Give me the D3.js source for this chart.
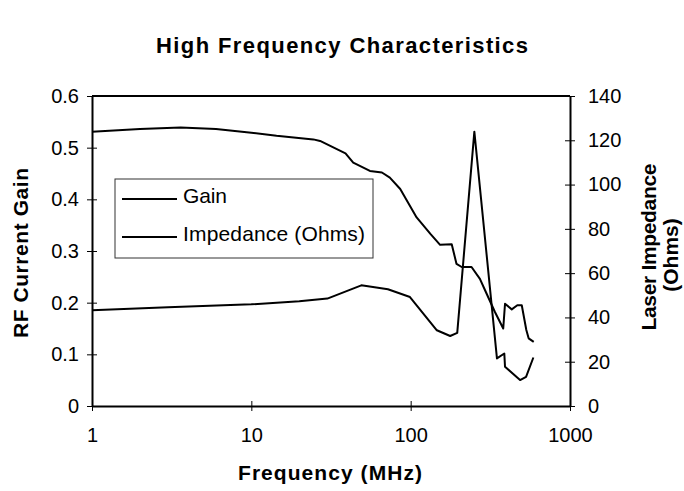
<!DOCTYPE html>
<html><head><meta charset="utf-8">
<script src="https://cdn.jsdelivr.net/npm/d3@7"></script>
<style>body{margin:0;background:#fff}svg{display:block;font-family:"Liberation Sans",Arial,sans-serif}</style>
</head><body><svg id="c" width="684" height="491"></svg>
<script>
// Gain (left axis) readings
const gainFreq   = [1, 2, 3.6, 6, 10, 14.4, 24.5, 27, 39, 43.6, 55.5, 66, 74, 86, 109, 133, 153, 181, 194, 209, 241, 272, 293, 338, 381, 391, 431, 467, 498, 532, 550, 592];
const gainValues = [0.531, 0.536, 0.539, 0.536, 0.529, 0.523, 0.516, 0.513, 0.489, 0.471, 0.455, 0.452, 0.442, 0.420, 0.365, 0.333, 0.312, 0.313, 0.275, 0.269, 0.269, 0.246, 0.224, 0.182, 0.150, 0.198, 0.187, 0.195, 0.195, 0.147, 0.131, 0.124];
// Impedance (right axis) readings
const impFreq   = [1, 3, 10, 20, 30, 49, 72, 99, 146, 177, 196, 251, 348, 387, 391, 486, 530, 589];
const impValues = [43.2, 44.6, 45.9, 47.3, 48.5, 54.5, 52.7, 49.2, 34.2, 31.6, 33.0, 123.9, 21.5, 23.7, 17.7, 11.7, 13.2, 21.9];

const xTicks = [1, 10, 100, 1000];
const leftTicks = [0, 0.1, 0.2, 0.3, 0.4, 0.5, 0.6];
const rightTicks = [0, 20, 40, 60, 80, 100, 120, 140];
const seriesNames = ["Gain", "Impedance (Ohms)"];
const titleText = "High Frequency Characteristics";
const xTitle = "Frequency (MHz)";
const yLeftTitle = "RF Current Gain";
const yRightTitle = ["Laser Impedance", "(Ohms)"];

const svg = d3.select("#c");
const L = 92, R = 570, T = 96, B = 406;
const x = d3.scaleLog().domain([1, 1000]).range([L, R]);
const yL = d3.scaleLinear().domain([0, 0.6]).range([B, T]);
const yR = d3.scaleLinear().domain([0, 140]).range([B, T]);
const FONT = '"Liberation Sans", Arial, sans-serif';

// title
svg.append("text").attr("x", 342).attr("y", 53).attr("text-anchor", "middle")
  .attr("font-size", 22).attr("font-weight", "bold").attr("textLength", 372)
  .attr("lengthAdjust", "spacing").text(titleText);

// frame top
svg.append("line").attr("x1", L).attr("x2", R).attr("y1", T).attr("y2", T)
  .attr("stroke", "#000").attr("stroke-width", 2);

function styleAxis(g) {
  g.attr("font-size", 20).attr("font-family", FONT);
  g.select(".domain").attr("stroke-width", 2).attr("stroke", "#000");
  g.selectAll(".tick line").attr("stroke", "#000").attr("stroke-width", 1);
  g.selectAll(".tick text").attr("fill", "#000");
}

const gl = svg.append("g").attr("transform", `translate(${L},0)`)
  .call(d3.axisLeft(yL).tickValues(leftTicks)
    .tickFormat(d => d === 0 ? "0" : d3.format(".1f")(d))
    .tickSize(5).tickSizeOuter(0).tickPadding(8));
gl.selectAll(".tick line").attr("x1", 5);
styleAxis(gl);

const gr = svg.append("g").attr("transform", `translate(${R},0)`)
  .call(d3.axisRight(yR).tickValues(rightTicks).tickFormat(d3.format("d"))
    .tickSize(5).tickSizeOuter(0).tickPadding(13));
gr.selectAll(".tick line").attr("x1", -5);
styleAxis(gr);

const gb = svg.append("g").attr("transform", `translate(0,${B})`)
  .call(d3.axisBottom(x).tickValues(xTicks).tickFormat(d3.format("d"))
    .tickSize(5).tickSizeOuter(0).tickPadding(17));
gb.selectAll(".tick line").attr("y1", -5);
styleAxis(gb);

// axis titles
svg.append("text").attr("transform", "translate(28,253) rotate(-90)")
  .attr("text-anchor", "middle").attr("font-size", 21).attr("font-weight", "bold")
  .attr("textLength", 170).attr("lengthAdjust", "spacing").text(yLeftTitle);
svg.append("text").attr("transform", "translate(656,247) rotate(-90)")
  .attr("text-anchor", "middle").attr("font-size", 21).attr("font-weight", "bold")
  .attr("textLength", 167).attr("lengthAdjust", "spacing").text(yRightTitle[0]);
svg.append("text").attr("transform", "translate(678,255) rotate(-90)")
  .attr("text-anchor", "middle").attr("font-size", 21).attr("font-weight", "bold")
  .text(yRightTitle[1]);
svg.append("text").attr("x", 330).attr("y", 480).attr("text-anchor", "middle")
  .attr("font-size", 21).attr("font-weight", "bold")
  .attr("textLength", 184).attr("lengthAdjust", "spacing").text(xTitle);

// series
const gainLine = d3.line().x((d, i) => x(gainFreq[i])).y(d => yL(d));
const impLine = d3.line().x((d, i) => x(impFreq[i])).y(d => yR(d));
svg.append("path").attr("d", gainLine(gainValues)).attr("fill", "none")
  .attr("stroke", "#000").attr("stroke-width", 2).attr("stroke-linejoin", "round");
svg.append("path").attr("d", impLine(impValues)).attr("fill", "none")
  .attr("stroke", "#000").attr("stroke-width", 2).attr("stroke-linejoin", "round");

// legend
const lg = svg.append("g");
lg.append("rect").attr("x", 115).attr("y", 179).attr("width", 258).attr("height", 79)
  .attr("fill", "#fff").attr("stroke", "#333").attr("stroke-width", 1);
const legY = [199, 237];
const legLen = [44, 182];
seriesNames.forEach((n, i) => {
  lg.append("line").attr("x1", 122).attr("x2", 177).attr("y1", legY[i]).attr("y2", legY[i])
    .attr("stroke", "#000").attr("stroke-width", 2);
  lg.append("text").attr("x", 183).attr("y", legY[i] + 4).attr("font-size", 21)
    .attr("textLength", legLen[i]).attr("lengthAdjust", "spacing").text(n);
});
</script></body></html>
